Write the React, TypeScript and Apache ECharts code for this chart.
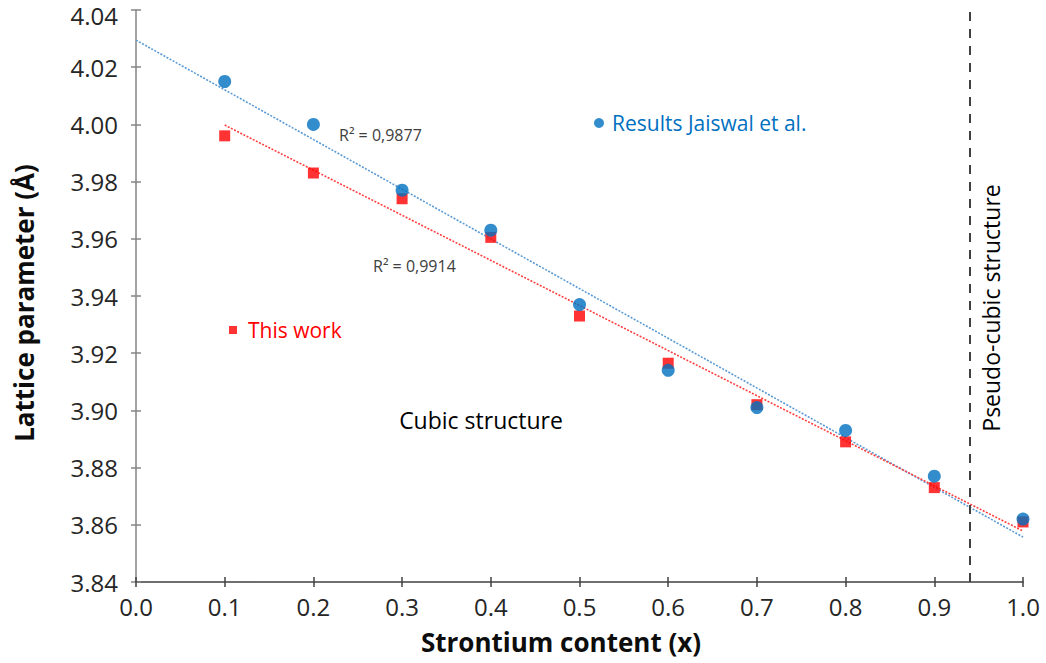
import React, { useEffect, useRef } from "react";
import * as echarts from "echarts";

// ---- Data ----
const strontiumX = [0.1, 0.2, 0.3, 0.4, 0.5, 0.6, 0.7, 0.8, 0.9, 1.0];
const jaiswalValues = [4.015, 4.0, 3.977, 3.963, 3.937, 3.914, 3.901, 3.893, 3.877, 3.862];
const thisWorkValues = [3.996, 3.983, 3.974, 3.9605, 3.933, 3.9165, 3.902, 3.889, 3.873, 3.861];
const jaiswalTrendRange = [0.0, 1.0];
const thisWorkTrendRange = [0.1, 1.0];
const jaiswalR2 = "R² = 0,9877";
const thisWorkR2 = "R² = 0,9914";
const pseudoCubicBoundary = 0.937;
const seriesNames = ["Results Jaiswal et al.", "This work"];
const xAxisRange = [0.0, 1.0, 0.1];
const yAxisRange = [3.84, 4.04, 0.02];

function linearFit(xs: number[], ys: number[]) {
  const n = xs.length;
  const mx = xs.reduce((a, b) => a + b, 0) / n;
  const my = ys.reduce((a, b) => a + b, 0) / n;
  let sxy = 0;
  let sxx = 0;
  for (let i = 0; i < n; i++) {
    sxy += (xs[i] - mx) * (ys[i] - my);
    sxx += (xs[i] - mx) * (xs[i] - mx);
  }
  const slope = sxy / sxx;
  return { slope, intercept: my - slope * mx };
}

function trendPoints(xs: number[], ys: number[], range: number[]) {
  const f = linearFit(xs, ys);
  return range.map((x) => [x, f.intercept + f.slope * x]);
}

const FONT = "'Open Sans', 'Noto Sans', sans-serif";
const BLUE = "#0070C0";
const RED = "#FF0000";

export default function App() {
  const ref = useRef<HTMLDivElement>(null);

  useEffect(() => {
    if (!ref.current) return;
    const chart = echarts.init(ref.current, null, { renderer: "svg" });

    const axisBase = (range: number[]) => ({
      type: "value",
      min: range[0],
      max: range[1],
      interval: range[2],
      splitLine: { show: false },
    });

    const option: any = {
      animation: false,
      backgroundColor: "#ffffff",
      textStyle: { fontFamily: FONT },
      grid: { left: 136, right: 23, top: 10, bottom: 81, containLabel: false },
      xAxis: [
        {
          ...axisBase(xAxisRange),
          position: "bottom",
          name: "Strontium content (x)",
          nameLocation: "middle",
          nameGap: 47,
          nameTextStyle: {
            fontFamily: FONT,
            fontWeight: "bold",
            fontSize: 26,
            color: "#0d0d0d",
            padding: [0, 37, 0, 0],
          },
          axisLine: { show: true, onZero: false, lineStyle: { color: "#404040", width: 1.5 } },
          axisTick: { show: true, inside: false, length: 5, lineStyle: { color: "#404040", width: 1.5 } },
          axisLabel: {
            fontFamily: FONT,
            fontSize: 24,
            color: "#262626",
            margin: 12,
            formatter: (v: number) => v.toFixed(1),
          },
        },
        {
          ...axisBase(xAxisRange),
          position: "bottom",
          axisLine: { show: false },
          axisTick: { show: true, inside: true, length: 5, lineStyle: { color: "#404040", width: 1.5 } },
          axisLabel: { show: false },
        },
      ],
      yAxis: [
        {
          ...axisBase(yAxisRange),
          position: "left",
          name: "Lattice parameter (Å)",
          nameLocation: "middle",
          nameGap: 99,
          nameRotate: 90,
          nameTextStyle: {
            fontFamily: FONT,
            fontWeight: "bold",
            fontSize: 26,
            color: "#0d0d0d",
            padding: [0, 14, 0, 0],
          },
          axisLine: { show: true, onZero: false, lineStyle: { color: "#868686", width: 1.5 } },
          axisTick: { show: true, inside: false, length: 5, lineStyle: { color: "#868686", width: 1.5 } },
          axisLabel: {
            fontFamily: FONT,
            fontSize: 24,
            color: "#262626",
            margin: 18,
            formatter: (v: number) =>
              Math.abs(v - yAxisRange[1]) < 1e-9 ? `{top|${v.toFixed(2)}}` : v.toFixed(2),
            rich: {
              top: { fontFamily: FONT, fontSize: 24, color: "#262626", padding: [10, 0, 0, 0] },
            },
          },
        },
        {
          ...axisBase(yAxisRange),
          position: "left",
          axisLine: { show: false },
          axisTick: { show: true, inside: true, length: 5, lineStyle: { color: "#868686", width: 1.5 } },
          axisLabel: { show: false },
        },
      ],
      legend: [
        {
          data: [{ name: seriesNames[0], icon: "circle", textStyle: { color: BLUE } }],
          left: 594,
          top: 111,
          padding: 0,
          itemWidth: 10,
          itemHeight: 10,
          selectedMode: false,
          textStyle: { fontFamily: FONT, fontSize: 21, color: BLUE, lineHeight: 24, padding: [0, 0, 0, 3] },
        },
        {
          data: [{ name: seriesNames[1], icon: "rect", textStyle: { color: RED } }],
          left: 229,
          top: 318,
          padding: 0,
          itemWidth: 8,
          itemHeight: 8,
          selectedMode: false,
          textStyle: { fontFamily: FONT, fontSize: 21, color: RED, lineHeight: 24, padding: [0, 0, 0, 6] },
        },
      ],
      series: [
        {
          name: "Trend Jaiswal",
          type: "line",
          data: trendPoints(strontiumX, jaiswalValues, jaiswalTrendRange),
          symbol: "none",
          lineStyle: { color: "#5B9BD5", width: 1.6, type: [2, 1.5] },
          silent: true,
          z: 1,
        },
        {
          name: "Trend this work",
          type: "line",
          data: trendPoints(strontiumX, thisWorkValues, thisWorkTrendRange),
          symbol: "none",
          lineStyle: { color: "#FF4040", width: 1.6, type: [2, 1.5] },
          silent: true,
          z: 1,
          markLine: {
            silent: true,
            symbol: "none",
            label: { show: false },
            lineStyle: { color: "#404040", width: 2, type: [9, 8] },
            data: [{ xAxis: pseudoCubicBoundary }],
          },
        },
        {
          name: seriesNames[1],
          type: "scatter",
          data: strontiumX.map((x, i) => [x, thisWorkValues[i]]),
          symbol: "rect",
          symbolSize: 11,
          itemStyle: { color: RED },
          z: 3,
        },
        {
          name: seriesNames[0],
          type: "scatter",
          data: strontiumX.map((x, i) => [x, jaiswalValues[i]]),
          symbol: "circle",
          symbolSize: 13,
          itemStyle: { color: BLUE },
          z: 4,
        },
      ],
      graphic: [
        {
          type: "text",
          x: 339,
          y: 135,
          style: {
            text: jaiswalR2,
            font: `16px ${FONT}`,
            fill: "#404040",
            align: "left",
            verticalAlign: "middle",
          },
        },
        {
          type: "text",
          x: 373,
          y: 266,
          style: {
            text: thisWorkR2,
            font: `16px ${FONT}`,
            fill: "#404040",
            align: "left",
            verticalAlign: "middle",
          },
        },
        {
          type: "text",
          x: 481,
          y: 420,
          style: {
            text: "Cubic structure",
            font: `23px ${FONT}`,
            fill: "#000000",
            align: "center",
            verticalAlign: "middle",
          },
        },
        {
          type: "text",
          x: 991,
          y: 308,
          rotation: Math.PI / 2,
          style: {
            text: "Pseudo-cubic structure",
            font: `23px ${FONT}`,
            fill: "#000000",
            align: "center",
            verticalAlign: "middle",
          },
        },
      ],
    };

    chart.setOption(option);
    return () => chart.dispose();
  }, []);

  return (
    <div
      ref={ref}
      style={{ position: "fixed", left: 0, top: 0, width: 1046, height: 663, background: "#fff" }}
    />
  );
}
